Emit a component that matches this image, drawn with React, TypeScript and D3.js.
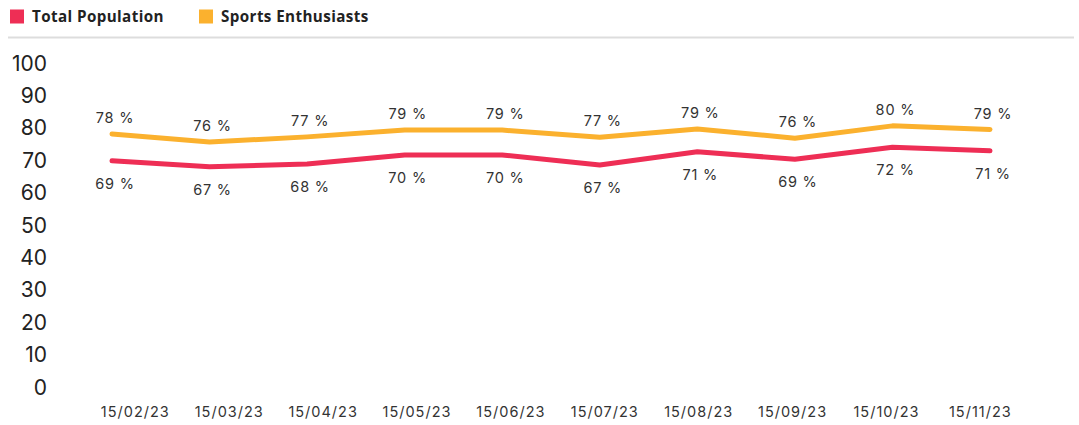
import React, { useEffect, useRef } from 'react';
import * as d3 from 'd3';

const dates = ['15/02/23', '15/03/23', '15/04/23', '15/05/23', '15/06/23', '15/07/23', '15/08/23', '15/09/23', '15/10/23', '15/11/23'];
const totalPopulation = [69.8, 68.0, 68.8, 71.6, 71.6, 68.5, 72.6, 70.3, 74.0, 72.9];
const totalLabels = [69, 67, 68, 70, 70, 67, 71, 69, 72, 71];
const sportsEnthusiasts = [78.1, 75.6, 77.2, 79.3, 79.3, 77.1, 79.6, 76.8, 80.6, 79.5];
const sportsLabels = [78, 76, 77, 79, 79, 77, 79, 76, 80, 79];
const yTicks = [0, 10, 20, 30, 40, 50, 60, 70, 80, 90, 100];

const RED = '#ee2e55';
const YELLOW = '#fbb12e';
const FONT = 'Inter, "Noto Sans", sans-serif';

const App = () => {
  const ref = useRef<SVGSVGElement>(null);

  useEffect(() => {
    const svg = d3.select(ref.current);
    svg.selectAll('*').remove();

    const y = d3.scaleLinear().domain([0, 100]).range([387, 63]);
    const xPoint = d3.scalePoint<string>().domain(dates).range([112, 990]);
    const xBand = d3.scaleBand<string>().domain(dates).range([88.4, 1027.3]);

    // legend
    const legend = [
      { name: 'Total Population', color: RED, x: 10 },
      { name: 'Sports Enthusiasts', color: YELLOW, x: 199 },
    ];
    const lg = svg.append('g');
    lg.selectAll('rect')
      .data(legend)
      .join('rect')
      .attr('x', d => d.x)
      .attr('y', 9.5)
      .attr('width', 14)
      .attr('height', 14)
      .attr('fill', d => d.color);
    lg.selectAll('text')
      .data(legend)
      .join('text')
      .attr('x', d => d.x + 22)
      .attr('y', 22)
      .attr('font-family', '"Open Sans", sans-serif')
      .attr('font-weight', 700)
      .attr('font-size', 15.2)
      .attr('letter-spacing', 0.4)
      .attr('fill', '#222')
      .text(d => d.name);

    svg.append('line')
      .attr('x1', 8)
      .attr('x2', 1074)
      .attr('y1', 37.5)
      .attr('y2', 37.5)
      .attr('stroke', '#ddd')
      .attr('stroke-width', 2);

    // y axis labels
    svg.append('g')
      .selectAll('text')
      .data(yTicks)
      .join('text')
      .attr('x', 47)
      .attr('y', d => y(d))
      .attr('dy', '0.36em')
      .attr('text-anchor', 'end')
      .attr('font-family', FONT)
      .attr('font-size', 21)
      .attr('fill', '#222')
      .text(d => d);

    // x axis labels
    svg.append('g')
      .selectAll('text')
      .data(dates)
      .join('text')
      .attr('x', d => xBand(d)! + xBand.bandwidth() / 2)
      .attr('y', 412)
      .attr('dy', '0.36em')
      .attr('text-anchor', 'middle')
      .attr('font-family', FONT)
      .attr('font-size', 14.5)
      .attr('letter-spacing', 1)
      .attr('fill', '#333')
      .text(d => d);

    const series = [
      { values: totalPopulation, labels: totalLabels, color: RED, dy: 23 },
      { values: sportsEnthusiasts, labels: sportsLabels, color: YELLOW, dy: -16 },
    ];

    const line = d3.line<number>()
      .x((_, i) => xPoint(dates[i])!)
      .y(d => y(d));

    series.forEach(s => {
      svg.append('path')
        .datum(s.values)
        .attr('d', line)
        .attr('fill', 'none')
        .attr('stroke', s.color)
        .attr('stroke-width', 5)
        .attr('stroke-linejoin', 'round')
        .attr('stroke-linecap', 'round');

      svg.append('g')
        .selectAll('text')
        .data(s.values)
        .join('text')
        .attr('x', (_, i) => xPoint(dates[i])! + 3)
        .attr('y', d => y(d) + s.dy)
        .attr('dy', '0.36em')
        .attr('text-anchor', 'middle')
        .attr('font-family', FONT)
        .attr('font-size', 14.5)
        .attr('letter-spacing', 0.8)
        .attr('fill', '#333')
        .text((_, i) => `${s.labels[i]} %`);
    });
  }, []);

  return (
    <svg
      ref={ref}
      width={1079}
      height={425}
      style={{ position: 'absolute', left: 0, top: 0, background: '#fff' }}
    />
  );
};

export default App;
